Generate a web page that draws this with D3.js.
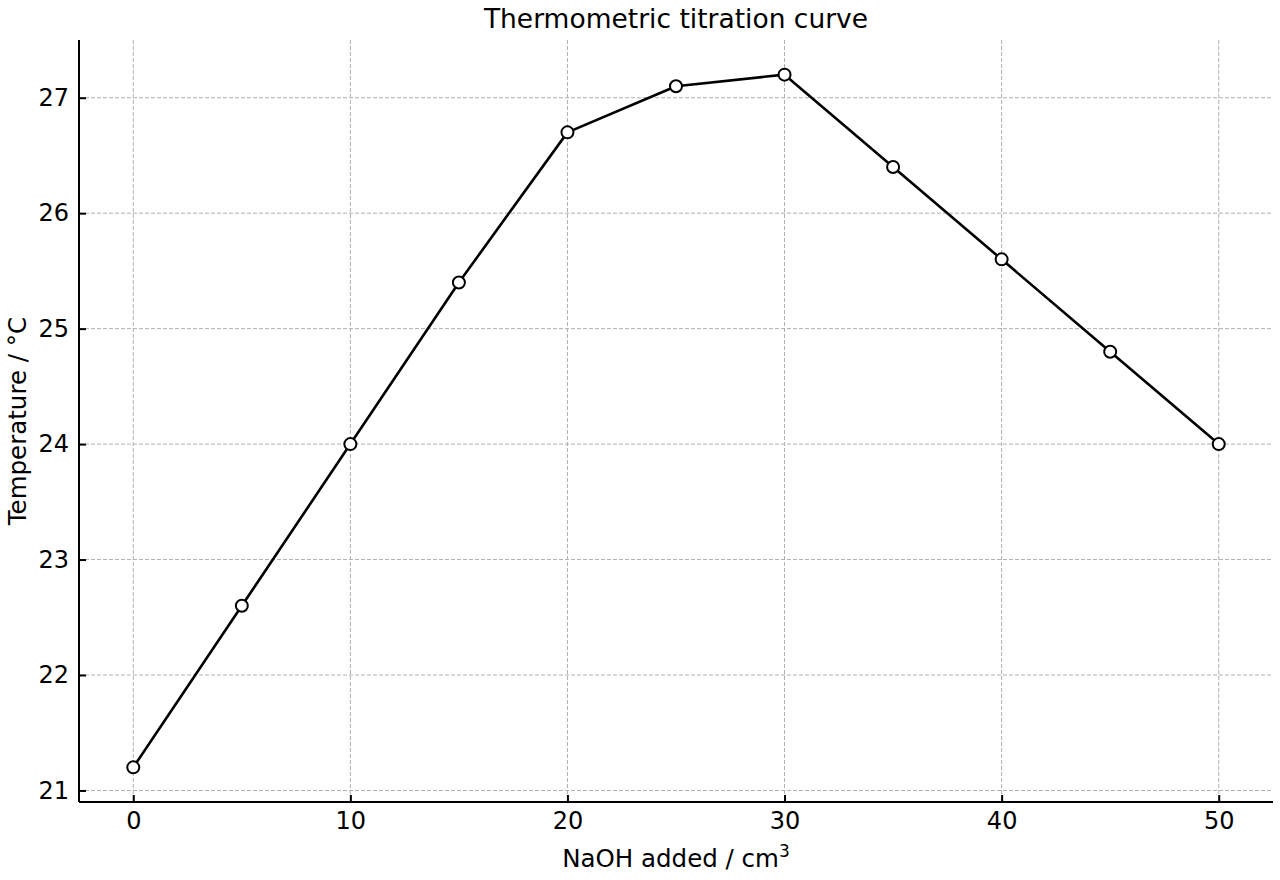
<!DOCTYPE html>
<html>
<head>
<meta charset="utf-8">
<script src="https://cdn.jsdelivr.net/npm/d3@7"></script>
<style>
  body { margin: 0; background: #fff; }
  svg text { font-family: "DejaVu Sans", sans-serif; fill: #000; }
</style>
</head>
<body>
<div id="chart"></div>
<script>
// NaOH volume (cm3) and measured temperature (°C)
const volumes = [0, 5, 10, 15, 20, 25, 30, 35, 40, 45, 50];
const temps = [21.2, 22.6, 24.0, 25.4, 26.7, 27.1, 27.2, 26.4, 25.6, 24.8, 24.0];
const xTicks = [0, 10, 20, 30, 40, 50];
const yTicks = [21, 22, 23, 24, 25, 26, 27];

const W = 1280, H = 880;
const margin = { top: 40, right: 7, bottom: 78, left: 79 };
const width = W - margin.left - margin.right;
const height = H - margin.top - margin.bottom;

const svg = d3.select("#chart").append("svg")
  .attr("width", W).attr("height", H);

const g = svg.append("g")
  .attr("transform", `translate(${margin.left},${margin.top})`);

const x = d3.scaleLinear().domain([-2.5, 52.5]).range([0, width]);
const y = d3.scaleLinear().domain([20.9, 27.5]).range([height, 0]);

// grid
g.append("g").selectAll("line").data(xTicks).enter().append("line")
  .attr("x1", d => x(d)).attr("x2", d => x(d))
  .attr("y1", 0).attr("y2", height)
  .attr("stroke", "#b0b0b0").attr("stroke-width", 1)
  .attr("stroke-dasharray", "4,2");
g.append("g").selectAll("line").data(yTicks).enter().append("line")
  .attr("x1", 0).attr("x2", width)
  .attr("y1", d => y(d)).attr("y2", d => y(d))
  .attr("stroke", "#b0b0b0").attr("stroke-width", 1)
  .attr("stroke-dasharray", "4,2");

// axes, ticks pointing inward
const fmt = d3.format("d");
const xAxis = g.append("g")
  .attr("transform", `translate(0,${height})`)
  .call(d3.axisBottom(x).tickValues(xTicks).tickFormat(fmt).tickSizeInner(-7).tickSizeOuter(0).tickPadding(10));
const yAxis = g.append("g")
  .call(d3.axisLeft(y).tickValues(yTicks).tickFormat(fmt).tickSizeInner(-7).tickSizeOuter(0).tickPadding(10));

[xAxis, yAxis].forEach(a => {
  a.attr("font-size", null).attr("font-family", null);
  a.select(".domain").attr("stroke", "#000").attr("stroke-width", 2);
  a.selectAll(".tick line").attr("stroke", "#000").attr("stroke-width", 2);
  a.selectAll(".tick text")
    .style("font-family", "DejaVu Sans, sans-serif")
    .style("font-size", "24px").attr("fill", "#000");
});
xAxis.select(".domain").attr("d", `M0,0H${width}`);
yAxis.select(".domain").attr("d", `M0,${height}V0`);

// line + markers
const line = d3.line().x((d, i) => x(volumes[i])).y(d => y(d));
g.append("path").datum(temps)
  .attr("d", line)
  .attr("fill", "none").attr("stroke", "#000").attr("stroke-width", 2.6)
  .attr("stroke-linejoin", "round");

g.selectAll(".pt").data(temps).enter().append("circle")
  .attr("class", "pt")
  .attr("cx", (d, i) => x(volumes[i]))
  .attr("cy", d => y(d))
  .attr("r", 6)
  .attr("fill", "#fff").attr("stroke", "#000").attr("stroke-width", 2);

// title and labels
svg.append("text")
  .attr("x", margin.left + width / 2).attr("y", 28)
  .attr("text-anchor", "middle").style("font-size", "26.5px")
  .text("Thermometric titration curve");

const xl = svg.append("text")
  .attr("x", margin.left + width / 2).attr("y", 867)
  .attr("text-anchor", "middle").style("font-size", "24.5px");
xl.append("tspan").text("NaOH added / cm");
xl.append("tspan").attr("dy", -10).style("font-size", "17px").text("3");

svg.append("text")
  .attr("transform", `translate(17,${margin.top + height / 2}) rotate(-90)`)
  .attr("dy", "0.35em")
  .attr("text-anchor", "middle").style("font-size", "24.5px")
  .text("Temperature / °C");
</script>
</body>
</html>
